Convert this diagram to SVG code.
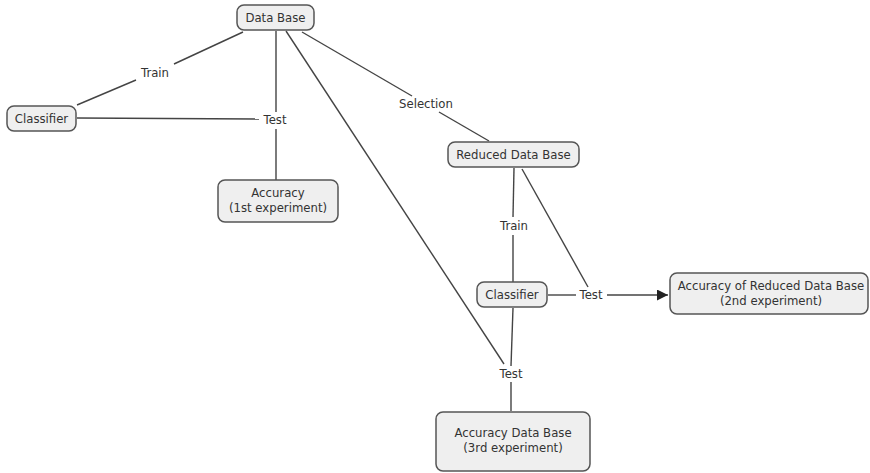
<svg xmlns="http://www.w3.org/2000/svg" width="870" height="473" viewBox="0 0 870 473">
  <style>
    .node rect { fill: #efefef; stroke: #555; stroke-width: 1.5; }
    .node text, .lbl { font-family: "DejaVu Sans", Verdana, sans-serif; font-size: 11.7px; fill: #333; text-anchor: middle; }
    .edges line { stroke: #444; stroke-width: 1.4; fill: none; }
  </style>
  <defs>
    <marker id="arrow" viewBox="0 0 10 10" refX="10" refY="5" markerWidth="11" markerHeight="11" markerUnits="userSpaceOnUse" orient="auto">
      <path d="M0,0 L10,5 L0,10 z" fill="#222"/>
    </marker>
  </defs>
  <rect width="870" height="473" fill="#fff"/>

  <g class="edges">
    <!-- Data Base - Train - Classifier -->
    <line x1="243" y1="32" x2="174" y2="64"/>
    <line x1="136" y1="80" x2="77" y2="105"/>
    <!-- Classifier - Test -->
    <line x1="77" y1="118" x2="259" y2="119"/>
    <!-- Data Base - Test - Accuracy -->
    <line x1="276" y1="31" x2="276" y2="112"/>
    <line x1="276" y1="129" x2="276" y2="180"/>
    <!-- Data Base - Test (3rd) -->
    <line x1="286" y1="31" x2="504" y2="364"/>
    <!-- Data Base - Selection - Reduced Data Base -->
    <line x1="302" y1="32" x2="412" y2="96"/>
    <line x1="439" y1="112" x2="489" y2="141"/>
    <!-- Reduced Data Base - Train - Classifier -->
    <line x1="514" y1="168" x2="513" y2="217"/>
    <line x1="513" y1="235" x2="513" y2="282"/>
    <!-- Reduced Data Base - Test (2nd) -->
    <line x1="522" y1="169" x2="588" y2="287"/>
    <!-- Classifier - Test - Accuracy of Reduced Data Base -->
    <line x1="548" y1="295" x2="576" y2="295"/>
    <line x1="607" y1="295" x2="668" y2="295" marker-end="url(#arrow)"/>
    <!-- Classifier - Test - Accuracy Data Base -->
    <line x1="513" y1="308" x2="511" y2="366"/>
    <line x1="511" y1="382" x2="511" y2="411"/>
  </g>

  <g id="edge-labels">
    <text class="lbl" x="155" y="77">Train</text>
    <text class="lbl" x="275" y="124">Test</text>
    <text class="lbl" x="426" y="108">Selection</text>
    <text class="lbl" x="514" y="230">Train</text>
    <text class="lbl" x="591" y="299">Test</text>
    <text class="lbl" x="511" y="378">Test</text>
  </g>

  <g id="data-base" class="node">
    <rect x="237" y="5" width="77" height="25" rx="7"/>
    <text x="275.5" y="21.5">Data Base</text>
  </g>
  <g id="classifier-1" class="node">
    <rect x="7" y="106" width="69" height="25" rx="7"/>
    <text x="41.5" y="122.5">Classifier</text>
  </g>
  <g id="accuracy-1" class="node">
    <rect x="218" y="180" width="120" height="42" rx="7"/>
    <text x="278" y="197">Accuracy</text>
    <text x="278" y="212">(1st experiment)</text>
  </g>
  <g id="reduced-data-base" class="node">
    <rect x="448" y="142" width="131" height="25" rx="7"/>
    <text x="513.5" y="158.5">Reduced Data Base</text>
  </g>
  <g id="classifier-2" class="node">
    <rect x="477" y="282" width="70" height="25" rx="7"/>
    <text x="512" y="298.5">Classifier</text>
  </g>
  <g id="accuracy-reduced" class="node">
    <rect x="670" y="273" width="198" height="41" rx="7"/>
    <text x="771" y="290">Accuracy of Reduced Data Base</text>
    <text x="771" y="305">(2nd experiment)</text>
  </g>
  <g id="accuracy-data-base" class="node">
    <rect x="436" y="412" width="154" height="59" rx="7"/>
    <text x="513" y="437">Accuracy Data Base</text>
    <text x="513" y="452">(3rd experiment)</text>
  </g>
</svg>
